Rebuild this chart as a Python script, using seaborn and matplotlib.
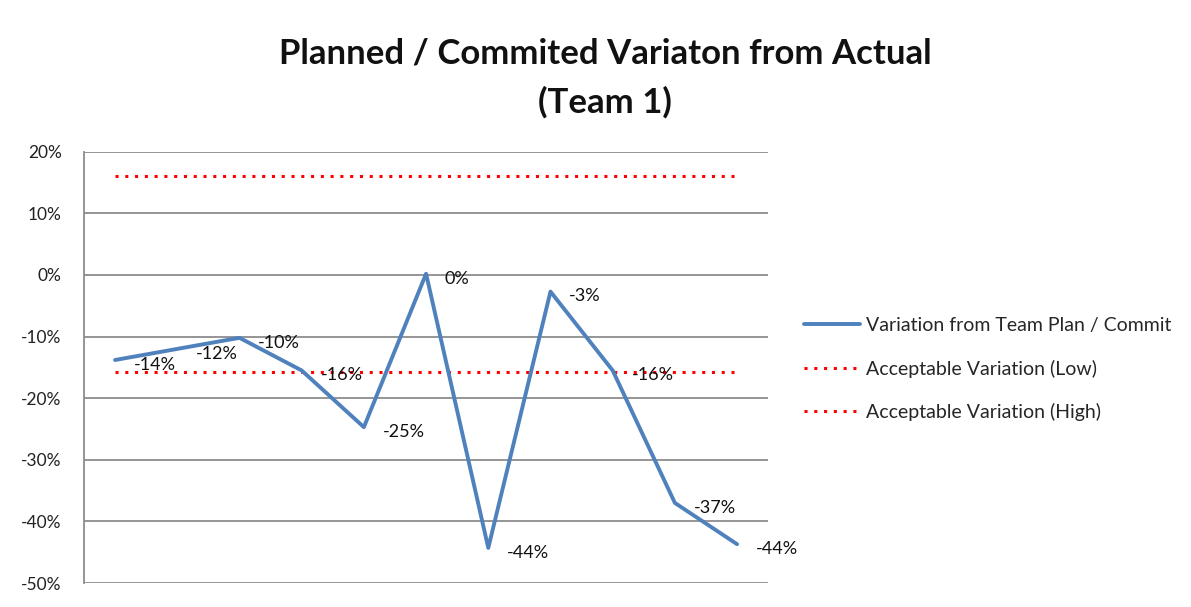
import matplotlib
matplotlib.use("Agg")
import matplotlib.pyplot as plt
import seaborn as sns
import pandas as pd
import numpy as np

# Data
sprints = list(range(1, 12))
variation = [-0.138, -0.120, -0.102, -0.155, -0.247, 0.002, -0.443, -0.027, -0.155, -0.370, -0.437]
labels = ["-14%", "-12%", "-10%", "-16%", "-25%", "0%", "-44%", "-3%", "-16%", "-37%", "-44%"]
acceptable_low = [-0.157] * 11
acceptable_high = [0.160] * 11
yticks = [-0.5, -0.4, -0.3, -0.2, -0.1, 0.0, 0.1, 0.2]
ytick_labels = ["-50%", "-40%", "-30%", "-20%", "-10%", "0%", "10%", "20%"]

title_line1 = "Planned / Commited Variaton from Actual"
title_line2 = "(Team 1)"
series_names = ["Variation from Team Plan / Commit",
                "Acceptable Variation (Low)",
                "Acceptable Variation (High)"]

sns.set_style("white")
plt.rcParams['font.family'] = ['Lato', 'DejaVu Sans']

fig = plt.figure(figsize=(11.91, 6.07), dpi=100)
ax = fig.add_axes([0.0705, 0.0395, 0.5745, 0.7105])

df = pd.DataFrame({"x": np.arange(len(sprints)), "v": variation,
                   "low": acceptable_low, "high": acceptable_high})

grid_color = "#8c8c8c"
for yv in yticks:
    ax.axhline(yv, color=grid_color, lw=1.3, zorder=0)

sns.lineplot(data=df, x="x", y="v", ax=ax, color="#4F81BD", lw=2.8,
             label=series_names[0], zorder=3)
sns.lineplot(data=df, x="x", y="low", ax=ax, color="#FF0000", lw=2.2,
             linestyle=(0, (1, 2.2)), label=series_names[1], zorder=2)
sns.lineplot(data=df, x="x", y="high", ax=ax, color="#FF0000", lw=2.2,
             linestyle=(0, (1, 2.2)), label=series_names[2], zorder=2)

for xi, yi, lab in zip(df["x"], df["v"], labels):
    ax.annotate(lab, (xi, yi), xytext=(13.5, -3.5), textcoords="offset points",
                fontsize=13, color="#111111", va="center", ha="left", zorder=4)

ax.set_xlim(-0.5, len(sprints) - 0.5)
ax.set_ylim(-0.5, 0.2)
ax.set_yticks(yticks)
ax.set_yticklabels(ytick_labels, fontsize=12.5, color="#222222")
ax.set_xticks([])
ax.set_xlabel("")
ax.set_ylabel("")
ax.tick_params(axis="y", length=0, pad=16)
for s in ["top", "right", "bottom"]:
    ax.spines[s].set_visible(False)
ax.spines["left"].set_color(grid_color)
ax.spines["left"].set_linewidth(1.3)

leg = ax.legend(loc="center left", bbox_to_anchor=(0.675, 0.392),
                bbox_transform=fig.transFigure, frameon=False,
                fontsize=14, handlelength=2.9, handletextpad=0.3,
                labelspacing=1.3, borderpad=0, borderaxespad=0)

fig.text(0.508, 0.912, title_line1, ha="center", va="center", fontsize=25,
         fontweight="bold", color="#111111")
fig.text(0.508, 0.832, title_line2, ha="center", va="center", fontsize=25,
         fontweight="bold", color="#111111")

fig.savefig("out.png", dpi=100)
